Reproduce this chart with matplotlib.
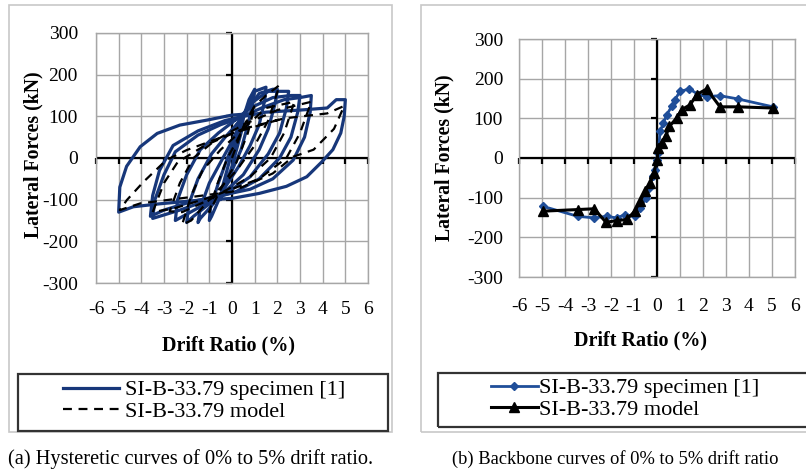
import matplotlib
matplotlib.use("Agg")
import matplotlib.pyplot as plt
from matplotlib.patches import Rectangle

plt.rcParams['font.family'] = ['Liberation Serif', 'DejaVu Serif']
plt.rcParams['axes.unicode_minus'] = False

# ---- (a) hysteretic curves, specimen cycles (drift %, kN) ----
spec_c1 = [(0, 0), (0.25, 60), (0.5, 100), (0.45, 70), (0.2, 20), (0, -20), (-0.25, -60),
           (-0.5, -100), (-0.45, -75), (-0.2, -25), (0, 15)]
spec_c2 = [(0, 15), (0.4, 80), (0.75, 140), (1.0, 165), (0.95, 140), (0.7, 80), (0.4, 20),
           (0, -30), (-0.5, -90), (-0.9, -140), (-1.0, -150), (-0.95, -120), (-0.6, -60),
           (-0.2, 0), (0.1, 40)]
spec_c3 = [(0.1, 40), (0.5, 100), (1.0, 160), (1.5, 170), (1.45, 140), (1.2, 80), (0.8, 30),
           (0.3, -20), (-0.3, -70), (-0.9, -115), (-1.4, -145), (-1.5, -155), (-1.4, -120),
           (-1.0, -60), (-0.5, -10), (0, 40)]
spec_c4 = [(0, 40), (0.5, 100), (1.2, 155), (1.8, 165), (2.0, 165), (1.9, 130), (1.6, 70),
           (1.2, 20), (0.5, -40), (-0.3, -80), (-1.0, -110), (-1.7, -140), (-2.0, -155),
           (-1.9, -110), (-1.5, -50), (-0.9, 10), (-0.3, 50), (0.2, 80)]
spec_c5 = [(0.2, 80), (0.8, 130), (1.6, 160), (2.3, 160), (2.5, 160), (2.4, 120), (2.1, 60),
           (1.6, 10), (0.8, -45), (0, -75), (-1.0, -105), (-2.0, -135), (-2.5, -150),
           (-2.4, -100), (-2.0, -40), (-1.4, 20), (-0.6, 60), (0, 85)]
spec_c6 = [(0, 85), (0.8, 120), (1.8, 145), (2.6, 150), (3.0, 150), (2.9, 110), (2.6, 50),
           (2.1, 0), (1.2, -50), (0.2, -80), (-1.0, -100), (-2.3, -125), (-3.2, -140),
           (-3.5, -145), (-3.4, -100), (-3.0, -40), (-2.5, 15), (-1.5, 55), (-0.5, 80), (0.3, 95)]
spec_c7 = [(0.3, 95), (1.3, 120), (2.3, 140), (3.0, 145), (3.5, 150), (3.45, 110), (3.2, 50),
           (2.7, -5), (1.8, -50), (0.8, -75), (-0.5, -90), (-1.8, -105), (-3.0, -125),
           (-3.6, -140), (-3.5, -90), (-3.2, -30), (-2.6, 30), (-1.5, 65), (-0.3, 90), (0.5, 100)]
spec_c8 = [(0.5, 100), (1.5, 110), (3.0, 115), (4.2, 120), (4.6, 140), (5.0, 140), (4.95, 100),
           (4.8, 60), (4.45, 20), (3.95, -10), (3.3, -45), (2.4, -68), (1.2, -85), (0, -97),
           (-1.4, -101), (-3.2, -110), (-4.35, -117), (-5.0, -130), (-4.95, -70), (-4.65, -20),
           (-4.05, 27), (-3.3, 59), (-2.3, 79), (-1.1, 91), (0, 103), (0.5, 105)]

# ---- (a) hysteretic curves, model cycles ----
model_c1 = [(0, 0), (0.5, 75), (1.0, 125), (0.7, 60), (0.2, -10), (-0.5, -75), (-1.0, -130),
            (-0.7, -70), (-0.2, 0), (0.2, 40)]
model_c2 = [(0.2, 40), (1.0, 125), (1.5, 150), (2.1, 175), (1.6, 90), (1.0, 30), (0.2, -30),
            (-1.0, -100), (-1.8, -150), (-2.2, -160), (-1.8, -90), (-1.3, -30), (-0.5, 20), (0.5, 70)]
model_c3 = [(0.5, 70), (1.5, 120), (2.75, 135), (2.3, 60), (1.7, 0), (0.8, -45), (-1.0, -100),
            (-2.2, -130), (-2.75, -128), (-2.3, -60), (-1.7, 0), (-0.8, 40), (0.5, 80)]
model_c4 = [(0.5, 80), (2.0, 115), (3.5, 135), (3.0, 60), (2.4, 0), (1.2, -50), (-1.0, -95),
            (-2.5, -120), (-3.5, -130), (-3.0, -60), (-2.4, -10), (-1.2, 30), (0.5, 70)]
model_c5 = [(0.5, 70), (2.3, 95), (4.2, 107), (4.95, 125), (4.5, 70), (3.6, 20), (2.7, 3),
            (1.8, -37), (0, -81), (-2.0, -95), (-4.05, -109), (-4.95, -125), (-4.64, -101),
            (-3.9, -57), (-2.9, -5), (-2.0, 19), (0, 59), (2.26, 95)]

spec_cycles = [spec_c1, spec_c2, spec_c3, spec_c4, spec_c5, spec_c6, spec_c7, spec_c8]
model_cycles = [model_c1, model_c2, model_c3, model_c4, model_c5]

# ---- (b) backbone curves ----
bb_spec_x = [-4.95, -3.45, -2.73, -2.19, -1.76, -1.39, -0.96, -0.74, -0.48, -0.33, -0.19, -0.09,
             0, 0.06, 0.13, 0.28, 0.42, 0.64, 0.78, 1.0, 1.41, 1.8, 2.16, 2.74, 3.51, 5.04]
bb_spec_y = [-122, -147, -151, -147, -151, -143, -147, -126, -101, -76, -46, -29,
             -4, 13, 67, 88, 109, 130, 147, 168, 174, 160, 155, 157, 149, 129]
bb_model_x = [-4.95, -3.45, -2.73, -2.22, -1.76, -1.32, -0.96, -0.74, -0.52, -0.3, -0.13, 0,
              0.06, 0.2, 0.38, 0.54, 0.86, 1.07, 1.44, 1.73, 2.16, 2.74, 3.51, 5.04]
bb_model_y = [-134, -130, -128, -162, -158, -155, -134, -109, -84, -63, -38, -4,
              25, 38, 55, 80, 101, 122, 134, 160, 174, 129, 129, 126]

xticks = [-6, -5, -4, -3, -2, -1, 0, 1, 2, 3, 4, 5, 6]
yticks = [-300, -200, -100, 0, 100, 200, 300]

BLUE = '#17377a'
W, H = 806, 473


def fx(px):
    return px / W


def fy(py):
    return 1 - py / H


fig = plt.figure(figsize=(8.06, 4.73), dpi=100)

# panel frames and legend boxes
fig.patches.append(Rectangle((fx(9), fy(432)), fx(383), 427 / H, transform=fig.transFigure,
                             fill=False, edgecolor='#c8c8c8', lw=1.2))
fig.patches.append(Rectangle((fx(421), fy(432)), fx(400), 427 / H, transform=fig.transFigure,
                             fill=False, edgecolor='#c8c8c8', lw=1.2))
fig.patches.append(Rectangle((fx(18), fy(431)), fx(370), 57 / H, transform=fig.transFigure,
                             fill=False, edgecolor='#333333', lw=1.6))
fig.patches.append(Rectangle((fx(438), fy(427)), fx(380), 54 / H, transform=fig.transFigure,
                             fill=False, edgecolor='#333333', lw=1.6))


def setup(ax, xpad, ypad):
    ax.set_xlim(-6, 6)
    ax.set_ylim(-300, 300)
    ax.set_xticks(xticks)
    ax.set_yticks(yticks)
    ax.grid(True, color='#a6a6a6', lw=1.0)
    ax.set_axisbelow(True)
    for s in ax.spines.values():
        s.set_color('#a6a6a6')
        s.set_linewidth(1.0)
    ax.tick_params(length=0, labelsize=14)
    ax.tick_params(axis='x', pad=xpad)
    ax.tick_params(axis='y', pad=ypad)
    ax.axhline(0, color='black', lw=1.6, zorder=1.5)
    ax.axvline(0, color='black', lw=1.6, zorder=1.5)
    ax.plot(xticks, [0] * len(xticks), ls='none', marker=3, ms=4, mew=1.6, color='black',
            clip_on=False, zorder=1.5)
    ax.plot([0] * len(yticks), yticks, ls='none', marker=0, ms=4, mew=1.6, color='black',
            clip_on=False, zorder=1.5)


# ---- panel (a) ----
ax1 = fig.add_axes([fx(96), fy(283), fx(272), 250 / H])
setup(ax1, 13, 13)
for i, cyc in enumerate(spec_cycles):
    ax1.plot([p[0] for p in cyc], [p[1] for p in cyc], color=BLUE, lw=2.3, zorder=3,
             solid_joinstyle='round', label='SI-B-33.79 specimen [1]' if i == 0 else None)
for i, cyc in enumerate(model_cycles):
    ax1.plot([p[0] for p in cyc], [p[1] for p in cyc], color='black', lw=1.6, ls=(0, (4, 3)),
             zorder=4, label='SI-B-33.79 model' if i == 0 else None)
fig.text(fx(33), fy(155), 'Lateral Forces (kN)', rotation=90, ha='center', va='center',
         fontsize=14.2, fontweight='bold')
fig.text(fx(229), fy(345), 'Drift Ratio (%)', ha='center', va='center', fontsize=14.5,
         fontweight='bold')
fig.legend(*ax1.get_legend_handles_labels(), loc='center left',
           bbox_to_anchor=(fx(52), fy(401)), frameon=False, fontsize=16, handlelength=2.5,
           handletextpad=0.3, labelspacing=0.05, borderpad=0)

# ---- panel (b) ----
ax2 = fig.add_axes([fx(519), fy(277), fx(276), 238 / H])
setup(ax2, 15, 11.5)
ax2.plot(bb_spec_x, bb_spec_y, color='#1f4e99', lw=2.0, marker='D', ms=4.5, zorder=3,
         label='SI-B-33.79 specimen [1]')
ax2.plot(bb_model_x, bb_model_y, color='black', lw=2.2, marker='^', ms=7, zorder=4,
         label='SI-B-33.79 model')
fig.text(fx(444), fy(158), 'Lateral Forces (kN)', rotation=90, ha='center', va='center',
         fontsize=14.2, fontweight='bold')
fig.text(fx(641), fy(340), 'Drift Ratio (%)', ha='center', va='center', fontsize=14.5,
         fontweight='bold')
fig.legend(*ax2.get_legend_handles_labels(), loc='center left',
           bbox_to_anchor=(fx(480), fy(399)), frameon=False, fontsize=16, handlelength=2.1,
           handletextpad=0.05, labelspacing=0.05, borderpad=0)

# captions
fig.text(fx(8), fy(459), '(a) Hysteretic curves of 0% to 5% drift ratio.', ha='left',
         va='center', fontsize=14.7)
fig.text(fx(452), fy(459), '(b) Backbone curves of 0% to 5% drift ratio', ha='left',
         va='center', fontsize=13.3)

fig.savefig('out.png', dpi=100)
